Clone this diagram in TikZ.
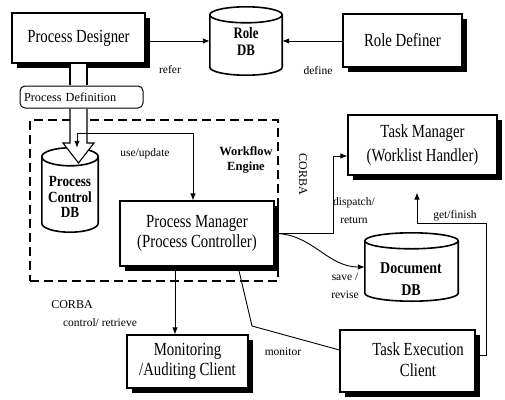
\documentclass[tikz,border=0pt]{standalone}
\usepackage{fontspec}
\setmainfont{Liberation Serif}
\newfontfamily\cfont[FakeStretch=0.8]{Liberation Serif}
\newfontfamily\dbfont[FakeStretch=0.85]{Liberation Serif}
\usetikzlibrary{arrows.meta,shadows,calc}
\newcommand\dbcyl[2]{%
  \draw[line width=1.6pt] let \p1=(#1.north west), \p2=(#1.south east) in
    (\x1,\y1-#2) -- (\x1,\y2+#2)
    arc[start angle=180,end angle=360,x radius={(\x2-\x1)/2},y radius=#2]
    -- (\x2,\y1-#2)
    arc[start angle=0,end angle=180,x radius={(\x2-\x1)/2},y radius=#2] -- cycle
    (\x1,\y1-#2) arc[start angle=180,end angle=360,x radius={(\x2-\x1)/2},y radius=#2];}
\tikzset{
  box/.style={draw, line width=1.1pt, fill=white, inner sep=0pt,
    drop shadow={shadow xshift=5pt, shadow yshift=-5pt, fill=black, opacity=1},
    font=\cfont\fontsize{18.5}{20.5}\selectfont, align=center},
  dbbox/.style={inner sep=0pt},
  dbtxt/.style={font=\dbfont\bfseries\fontsize{15.5}{15.5}\selectfont, align=center},
  lab/.style={font=\fontsize{11.5}{18}\selectfont, align=center},
  conn/.style={line width=0.9pt},
  pipe/.style={line width=1.1pt},
}
\begin{document}
\begin{tikzpicture}[x=1pt,y=-1pt, every node/.style={inner sep=0pt},
  >={Latex[length=7pt,width=5.5pt]}]
\useasboundingbox (0,0) rectangle (505,399);

% workflow engine container
\node[draw, line width=2pt, dash pattern=on 9pt off 5pt, minimum width=248, minimum height=161] (wfe) at (154,200.5) {};
\node[font=\bfseries\fontsize{12.5}{15}\selectfont, align=center] (wfl) at (246,160) {Workflow\\Engine};

% boxes
\node[box, minimum width=133, minimum height=50] (pd) at (78.5,38) {Process Designer};
\node[box, minimum width=119, minimum height=53] (rd) at (402.5,40.5) {Role Definer};
\node[box, minimum width=149, minimum height=60] (tm) at (422.5,145) {Task Manager\\[4pt](Worklist Handler)};
\node[box, minimum width=154, minimum height=65] (pm) at (197,233.5) {Process Manager\\(Process Controller)};
\node[box, minimum width=121, minimum height=53] (mon) at (187.5,361.5) {Monitoring\\/Auditing Client};
\node[box, minimum width=135, minimum height=62] (tec) at (407.5,361) {};
\node[font=\cfont\fontsize{18.5}{21}\selectfont, align=center] (tect) at (418,360) {Task Execution\\Client};

% process definition
\node[draw, rounded corners=5pt, line width=1pt, fill=white, minimum width=123, minimum height=22,
  text width=115, align=left, font=\fontsize{12.3}{14}\selectfont] (pdef) at (81.5,97) {Process Definition};

% databases
\node[dbbox, minimum width=72, minimum height=68, font=\cfont\bfseries\fontsize{16}{17}\selectfont, align=center] (roledb) at (246,41) {Role\\DB};
\dbcyl{roledb}{8pt}
\node[dbbox, minimum width=56, minimum height=84] (pcdb) at (70,190) {};
\dbcyl{pcdb}{9pt}
\node[dbtxt] (pcdbt) at (70,197) {Process\\Control\\DB};
\node[dbbox, minimum width=93, minimum height=68] (docdb) at (411.5,267) {};
\dbcyl{docdb}{8pt}
\node[dbtxt, font=\dbfont\bfseries\fontsize{16.5}{22}\selectfont] (docdbt) at (411,279) {Document\\DB};

% pipe from designer to definition
\fill[white] (pd.south -| 70,0) rectangle ([yshift=1pt]pdef.north -| 87,0);
\draw[pipe] (pd.south -| 70,0) -- ([yshift=0.5pt]pdef.north -| 70,0);
\draw[pipe] (pd.south -| 87,0) -- ([yshift=0.5pt]pdef.north -| 87,0);
% hollow arrow from definition into process control db
\draw[pipe, fill=white] ([yshift=-0.5pt]pdef.south -| 70,0) -- (70,143) -- (63,143) -- (78.5,163)
  -- (94,143) -- (87,143) -- ([yshift=-0.5pt]pdef.south -| 87,0);

% connectors
\draw[conn,->] (pd.east |- roledb.west) -- (roledb.west);
\draw[conn,->] (rd.west |- roledb.east) -- (roledb.east);
\draw[conn,<->] (pcdb.north -| 77,0) |- (193,133) -- (pm.north -| 193,0);
\draw[conn,->] (pm.east) -| ($(tm.west)+(-14,11)$) -- ($(tm.west)+(0,11)$);
\draw[conn,->] (pm.east) to[out=0,in=180] (docdb.west);
\draw[conn,->] ($(tec.east)+(0,-6)$) -| (486,223) -| ($(tm.south)+(-5.5,17)$);
\draw[conn] (pm.south -| 238,0) -- (252,326) -- ($(tec.west)+(0,-11)$);
\draw[conn,->] (pm.south -| 175,0) -- (mon.north -| 175,0);

% labels
\node[lab] (l1) at (170,70) {refer};
\node[lab] (l2) at (318,71) {define};
\node[lab] (l3) at (145,154) {use/update};
\node[lab] (l4) at (354,211) {dispatch/\\return};
\node[lab] (l5) at (345,286) {save /\\revise};
\node[lab] (l6) at (455,216) {get/finish};
\node[lab] (l7) at (283,352) {monitor};
\node[lab] (l8) at (100,323) {control/ retrieve};
\node[font=\fontsize{12}{14}\selectfont] (c1) at (72,305) {CORBA};
\node[font=\fontsize{12}{14}\selectfont, rotate=-90] (c2) at (303,174) {CORBA};
\end{tikzpicture}
\end{document}
